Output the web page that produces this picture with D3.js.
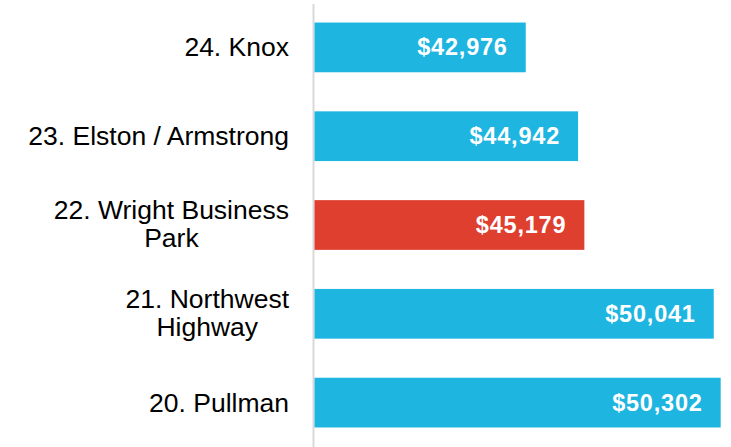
<!DOCTYPE html>
<html><head><meta charset="utf-8">
<script src="https://cdn.jsdelivr.net/npm/d3@7"></script>
<style>body{margin:0;background:#fff;}svg{display:block;font-family:"Liberation Sans",Arial,sans-serif;}</style>
</head><body>
<svg id="c" width="731" height="447"></svg>
<script>
const categories = [["24. Knox"], ["23. Elston / Armstrong"], ["22. Wright Business", "Park"], ["21. Northwest", "Highway"], ["20. Pullman"]];
const values = [42976, 44942, 45179, 50041, 50302];
const highlight = [false, false, true, false, false];

const svg = d3.select("#c");
const x = d3.scaleLinear().domain([35000, 50000]).range([313.5, 712.65]);
const y = d3.scaleBand().domain(d3.range(values.length)).range([3, 447]).paddingInner(0.44).paddingOuter(0.22);

svg.append("line").attr("x1", 313.5).attr("x2", 313.5).attr("y1", 4).attr("y2", 447)
  .attr("stroke", "#d9d9d9").attr("stroke-width", 2);

svg.selectAll("rect.bar").data(values).join("rect").attr("class", "bar")
  .attr("x", x(35000) + 1).attr("y", (d, i) => y(i))
  .attr("width", d => x(d) - x(35000) - 1).attr("height", y.bandwidth())
  .attr("fill", (d, i) => highlight[i] ? "#de3f2f" : "#1fb5e1");

const fmt = d3.format(",");
svg.selectAll("text.val").data(values).join("text").attr("class", "val")
  .attr("x", d => x(d) - 18).attr("y", (d, i) => y(i) + y.bandwidth() / 2 - 0.5)
  .attr("dy", "0.36em").attr("text-anchor", "end")
  .attr("fill", "#fff").attr("font-weight", "bold").attr("font-size", 23.5)
  .attr("letter-spacing", "0.8px")
  .text(d => "$" + fmt(d));

const lh = 28.3;
categories.forEach((lines, i) => {
  const cy = y(i) + y.bandwidth() / 2 - (lines.length > 1 ? 1.5 : 0.5);
  const g = svg.append("g");
  const ts = lines.map((l, j) => g.append("text").attr("font-size", 26.5).attr("fill", "#000")
    .attr("y", cy + (j - (lines.length - 1) / 2) * lh).attr("dy", "0.36em").text(l));
  const widths = ts.map(t => t.node().getComputedTextLength());
  const maxW = Math.max(...widths);
  const right = 289;
  ts.forEach((t, j) => t.attr("x", right - maxW / 2).attr("text-anchor", "middle"));
});
</script>
</body></html>
